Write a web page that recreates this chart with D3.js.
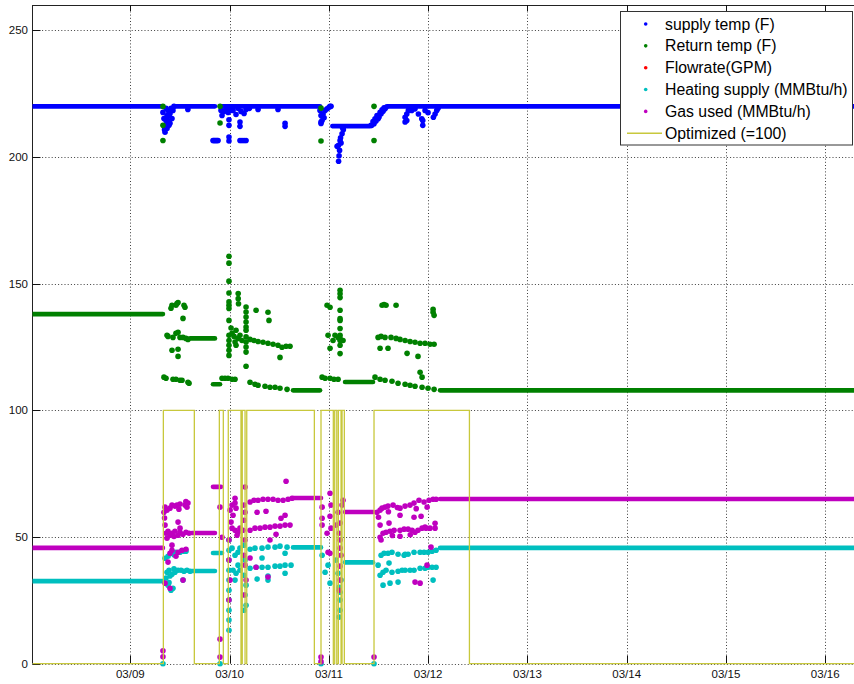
<!DOCTYPE html>
<html><head><meta charset="utf-8">
<script src="https://cdn.jsdelivr.net/npm/d3@7"></script>
<style>body{margin:0;background:#fff}svg{display:block}text{font-family:"Liberation Sans",Arial,Helvetica,sans-serif}</style>
</head><body><svg id="c" width="854" height="684"></svg>
<script>
// ---------- data (time = fractional day of March, values in chart units) ----------
const xDomain = [8.015, 16.34];
const yDomain = [0, 260];
const yTicks = [0, 50, 100, 150, 200, 250];
const xTickDays = [9, 10, 11, 12, 13, 14, 15, 16];
const xTickLabels = ["03/09", "03/10", "03/11", "03/12", "03/13", "03/14", "03/15", "03/16"];
const seriesNames = ["supply temp (F)", "Return temp (F)", "Flowrate(GPM)", "Heating supply (MMBtu/h)", "Gas used (MMBtu/h)", "Optimized (=100)"];

// supply temp: steady stretches [start, end, value] and individual readings [t, value]
const supplyRuns = [[8.015, 9.319, 220], [9.45, 9.853, 220], [9.924, 10.911, 220], [11.035, 11.415, 212.2], [11.586, 16.34, 220]];
const supplyPts = [
 [9.329,217.6],[9.339,215.2],[9.35,212.5],[9.35,209.8],[9.36,219.2],[9.36,214.4],[9.37,216.4],[9.37,211.3],[9.38,214.4],[9.38,218.4],[9.39,212.5],[9.39,216.4],[9.40,217.2],[9.40,213.3],[9.41,219.2],[9.42,215.2],[9.43,218.4],[9.44,220],[9.345,210.8],[9.58,218.8],
 [9.833,206.5],[9.843,206.5],[9.853,206.5],[9.864,206.5],[9.874,206.5],[9.884,206.5],
 [9.914,218.4],[9.924,216.4],[9.944,218.0],[9.964,218.8],[9.985,217.6],[10.005,218.4],[10.035,218.4],[10.065,216.8],[10.085,219.2],[10.115,218.0],[10.146,217.2],[10.166,218.8],[10.20,219.2],[10.287,218.8],[10.488,218.8],
 [9.994,214.7],[9.994,212.5],[9.994,207.9],[9.994,206.3],
 [10.105,213.8],[10.105,212.1],[10.105,206.5],[10.125,206.5],[10.146,206.5],[10.166,206.5],
 [10.559,213.3],[10.559,212.1],
 [10.911,218.4],[10.921,216.4],[10.921,213.8],[10.921,213.2],[10.932,214.4],[10.942,217.0],[10.952,215.5],[10.962,218.4],[10.982,219.0],[11.002,219.6],[11.012,220],[11.022,220],
 [11.146,210.8],[11.133,209.2],[11.118,207.6],[11.113,206.5],[11.098,204.6],[11.083,204.2],[11.108,202.6],[11.098,198.3],[11.103,200.5],[11.123,205.5],[11.138,211.5],
 [11.425,212.5],[11.432,212.5],[11.445,214.0],[11.455,213.1],[11.465,215.1],[11.475,214.2],[11.485,216.4],[11.496,215.1],[11.506,215.8],[11.516,217.6],[11.526,217.1],[11.536,218.6],[11.546,218.1],[11.556,219.4],[11.566,219.0],[11.576,219.6],
 [11.768,215.7],[11.768,213.8],[11.785,217.0],[11.785,214.4],[11.801,218.4],[11.835,218.4],[11.868,219.0],[11.902,217.0],[11.936,215.1],[11.946,212.5],[11.946,214.4],[11.969,218.4],[11.999,217.5],[12.053,215.7],[12.07,217.0],[12.087,218.4],[12.10,219.2]
];

const returnRuns = [[8.015, 9.329, 138], [9.602, 9.853, 128.4], [9.833, 9.904, 110.3], [10.639, 10.911, 107.9], [11.163, 11.445, 111.2], [12.12, 16.34, 107.9]];
const returnPts = [
 [9.329,220],[9.329,212.5],[9.329,206.5],[9.904,220],[9.904,213.4],[10.921,219.3],[10.921,206.3],[11.455,220],[11.455,206.5],
 [9.339,113.1],[9.36,112.7],[9.43,112.3],[9.46,112.3],[9.501,111.9],[9.521,111.9],[9.581,111.1],[9.592,110.7],
 [9.41,140.3],[9.42,141.5],[9.46,141.5],[9.47,142.2],[9.481,142.6],[9.541,141.5],[9.551,140.7],[9.531,136.3],
 [9.37,129.6],[9.38,129.2],[9.43,128.8],[9.46,130.4],[9.481,130.8],[9.501,128.8],[9.531,128.8],[9.561,128.4],[9.581,128.0],
 [9.42,123.7],[9.481,124.1],[9.481,121.3],
 [9.924,112.7],[9.954,112.7],[9.984,112.7],[10.025,112.3],[10.055,112.3],
 [9.994,160.8],[9.994,158.1],[9.994,151.0],[9.994,146.3],[9.994,142.8],[9.994,141.5],[9.994,140.2],[9.994,135.5],[9.994,129.6],[9.994,127.6],[9.994,125.7],[9.994,123.7],[9.994,121.7],
 [10.025,130.4],[10.045,129.2],[10.065,131.6],[10.085,128.4],[10.105,129.6],[10.125,127.6],[10.065,125.7],[10.015,132.5],[10.055,127.0],
 [10.087,146.1],[10.087,144.1],[10.09,142.1],
 [10.166,140.8],[10.166,138.8],[10.166,136.8],[10.166,134.9],[10.166,132.9],[10.166,131.6],[10.166,129.0],[10.166,127.0],[10.166,125.0],[10.166,123.0],[10.166,117.4],
 [10.206,128.0],[10.246,127.6],[10.287,127.2],[10.337,126.9],[10.387,126.5],[10.438,126.1],[10.488,125.7],[10.528,124.9],[10.569,125.3],[10.609,125.3],
 [10.267,139.5],[10.387,138.7],[10.397,135.5],[10.508,120.9],
 [10.206,111.1],[10.256,110.3],[10.287,109.9],[10.357,109.5],[10.407,109.1],[10.458,109.1],[10.508,108.7],[10.579,108.3],
 [10.932,113.1],[10.962,112.7],[11.012,112.7],[11.052,112.3],[11.093,112.3],
 [10.982,141.5],[11.012,140.7],
 [11.113,147.4],[11.113,146.0],[11.113,144.5],[11.113,139.5],[11.113,136.2],[11.113,135.5],[11.113,132.3],[11.113,129.6],[11.113,128.4],[11.113,127.6],[11.113,125.7],[11.113,122.4],
 [10.992,129.6],[11.062,129.6],[11.042,127.6],[11.012,124.5],[11.093,128.8],[11.143,127.6],
 [11.536,141.5],[11.556,141.8],[11.576,141.5],[11.677,141.5],
 [11.496,128.8],[11.526,129.2],[11.566,128.8],[11.626,128.8],[11.677,128.4],[11.717,128.0],[11.768,127.6],[11.818,127.2],[11.868,126.9],[11.919,126.5],[11.969,126.5],[12.019,126.1],[12.06,126.1],
 [11.516,124.5],[11.596,124.5],[11.788,122.5],[11.898,121.3],[11.919,115.0],[11.939,113.1],[12.05,138.7],[12.06,137.5],[12.05,139.9],
 [11.465,113.1],[11.516,112.3],[11.566,111.9],[11.636,111.5],[11.697,110.7],[11.768,110.3],[11.818,109.9],[11.868,109.5],[11.939,109.1],[11.999,108.7],[12.06,108.3]
];

const flowRuns = [];
const flowPts = [];

const heatRuns = [[8.015, 9.329, 32.6], [9.62, 9.853, 36.6], [9.833, 9.924, 43.7], [10.639, 10.921, 45.9], [11.163, 11.445, 40.0], [12.12, 16.34, 45.7]];
const heatPts = [
 [9.329,0],[9.904,0],[10.921,0],[11.455,0],
 [9.35,41.6],[9.38,42.4],[9.42,43.6],[9.46,44.0],[9.501,44.0],[9.541,44.4],[9.561,44.4],[9.44,43.0],[9.52,44.6],
 [9.37,36.1],[9.39,36.9],[9.42,35.3],[9.45,36.1],[9.481,36.9],[9.511,36.9],[9.541,36.5],[9.571,36.9],[9.602,36.5],[9.40,34.6],[9.44,37.5],
 [9.36,33.8],[9.38,31.0],[9.41,29.0],[9.43,29.8],[9.531,33.0],[9.39,32.0],
 [9.994,48.8],[9.994,44.8],[9.994,40.9],[9.994,36.9],[9.994,33.0],[9.994,29.0],[9.994,25.1],[9.994,21.1],[9.994,17.2],[9.994,13.2],
 [10.146,46.8],[10.156,40.9],[10.146,34.9],[10.166,31.0],[10.156,27.1],[10.166,23.1],[10.146,21.1],
 [10.025,45.6],[10.055,42.8],[10.085,44.0],[10.105,45.6],[10.035,36.9],[10.065,35.7],[10.105,36.9],[10.055,33.0],[10.085,38.9],
 [10.206,45.2],[10.256,45.6],[10.327,45.6],[10.387,46.0],[10.458,46.0],[10.508,46.4],[10.579,46.0],
 [10.206,37.7],[10.267,38.1],[10.327,38.1],[10.387,38.1],[10.458,38.5],[10.508,38.5],[10.559,38.9],[10.619,38.9],
 [10.277,33.4],[10.387,34.6],[10.387,33.0],[10.559,43.6],[10.559,35.7],[10.327,41.7],
 [10.932,42.8],[10.962,36.1],[10.992,38.9],[11.012,31.8],[11.073,40.9],[11.093,35.7],[11.103,30.2],[11.113,25.1],[11.113,21.1],[11.103,18.4],[11.123,33.0],[11.113,28.2],
 [11.526,42.8],[11.556,43.6],[11.596,43.6],[11.636,44.0],[11.697,43.2],[11.758,42.8],[11.798,43.2],[11.858,44.0],[11.919,44.0],[11.959,44.0],[11.999,44.0],[12.04,44.4],[12.08,44.8],
 [11.516,34.9],[11.546,36.1],[11.576,36.9],[11.636,36.1],[11.697,36.5],[11.738,36.9],[11.768,36.9],[11.818,36.9],[11.858,36.9],[11.919,37.7],[11.969,37.7],[11.999,38.1],[12.04,38.1],[12.08,38.1],
 [11.546,31.0],[11.616,31.8],[11.697,32.2],[11.606,39.7],[11.768,43.2],[12.05,33.0],[11.496,38.9]
];

const gasRuns = [[8.015, 9.329, 45.7], [9.62, 9.853, 51.6], [9.833, 9.914, 69.8], [10.639, 10.921, 65.4], [11.163, 11.445, 59.9], [12.12, 16.34, 65.0]];
const gasPts = [
 [9.329,5.1],[9.329,2.7],[9.904,9.7],[9.904,2.6],[10.921,2.6],[10.921,0.8],[11.455,2.6],
 [9.339,59.8],[9.35,61.8],[9.37,60.6],[9.40,61.4],[9.42,62.6],[9.45,62.2],[9.47,62.6],[9.501,63.0],[9.551,62.6],[9.581,63.4],[9.571,61.8],[9.345,57.5],[9.49,61.0],[9.56,64.0],
 [9.35,54.7],[9.481,55.9],[9.501,53.5],
 [9.36,51.5],[9.38,52.3],[9.40,50.7],[9.42,51.5],[9.45,52.3],[9.481,50.7],[9.501,51.9],[9.531,51.1],[9.561,51.9],[9.592,51.5],[9.37,49.5],[9.44,50.2],
 [9.40,43.6],[9.42,44.8],[9.46,42.4],[9.481,44.0],[9.521,44.8],[9.561,45.2],[9.38,40.1],[9.42,46.8],
 [9.40,29.8],[9.531,33.0],[9.35,31.8],
 [9.904,61.8],[9.924,49.9],
 [10.005,60.6],[10.025,62.6],[10.055,65.3],[10.055,63.4],[10.065,61.4],[10.035,58.6],[10.015,55.9],[10.025,53.5],[10.055,52.7],[10.085,51.9],[10.105,53.5],[10.136,52.7],[10.075,50.7],[9.994,48.8],[9.994,40.9],[10.005,33.0],[9.994,25.1],
 [10.146,62.6],[10.156,59.8],[10.146,56.6],[10.156,48.8],[10.146,42.8],[10.156,38.9],[10.166,33.0],[10.146,27.1],[10.156,69.7],
 [10.206,63.8],[10.246,64.5],[10.287,64.5],[10.337,64.9],[10.387,64.9],[10.438,64.9],[10.488,64.5],[10.539,64.5],[10.589,64.9],[10.629,65.3],[10.569,72.0],
 [10.206,52.7],[10.256,53.5],[10.307,53.5],[10.357,53.9],[10.407,53.9],[10.458,54.3],[10.508,54.3],[10.559,54.7],[10.609,54.7],
 [10.277,59.8],[10.367,60.2],[10.518,57.4],[10.559,58.6],[10.468,51.1],[10.407,48.8],[10.387,34.2],[10.267,38.1],[10.206,41.7],
 [10.932,61.8],[10.932,57.4],[10.932,54.7],[11.012,67.3],[11.022,62.6],[11.012,58.2],[10.982,51.5],[11.022,53.5],[10.992,44.0],[11.012,43.6],
 [11.143,64.5],[11.133,62.6],[11.113,55.5],[11.103,51.5],[11.113,48.8],[11.113,45.6],[11.123,42.8],[11.113,38.5],[11.113,33.0],[11.103,29.0],[11.093,59.8],[11.073,54.7],
 [11.485,59.8],[11.516,60.6],[11.536,61.4],[11.566,61.8],[11.596,62.2],[11.647,62.6],[11.717,58.6],[11.717,61.4],[11.768,62.2],[11.818,62.6],[11.858,63.4],[11.908,64.5],[11.959,63.8],[12.009,64.5],[12.05,64.9],[12.08,64.9],[11.50,57.8],[11.60,60.0],[11.69,61.6],[11.88,61.2],[11.99,61.8],
 [11.516,49.9],[11.546,51.5],[11.576,51.9],[11.616,52.3],[11.657,52.7],[11.717,52.7],[11.758,53.1],[11.798,53.1],[11.838,52.7],[11.868,51.9],[11.898,52.7],[11.939,53.5],[11.979,53.5],[12.019,53.5],[12.07,53.5],[11.717,50.3],[11.526,48.8],[12.07,55.4],[11.64,50.6],[11.82,50.9],
 [11.858,57.8],[11.929,58.2],[11.969,53.9],[11.606,55.5],[12.029,46.0],[11.868,32.2],[11.919,31.8],[11.989,38.9],[11.516,54.7]
];

// Optimized: switching times and the state that starts at each time
const optTimes  = [8.015, 9.333, 9.645, 9.897, 9.937, 9.987, 10.115, 10.128, 10.156, 10.173, 10.854, 10.921, 11.045, 11.059, 11.080, 11.096, 11.123, 11.133, 11.156, 11.455, 12.416, 16.34];
const optValues = [0, 100, 0, 100, 0, 100, 0, 100, 0, 100, 0, 100, 0, 100, 0, 100, 0, 100, 0, 100, 0, 0];

const colors = ["#0000ff", "#008000", "#ff0000", "#00bfbf", "#bf00bf", "#c8c83c"];

// ---------- drawing ----------
const svg = d3.select("#c");
const m = {left: 32.5, right: 859, top: 5, bottom: 663.7};
const toDate = d => new Date(Date.UTC(2013, 2, 1) + (d - 1) * 864e5);
const x = d3.scaleUtc().domain(xDomain.map(toDate)).range([m.left, m.right]);
const y = d3.scaleLinear().domain(yDomain).range([m.bottom, m.top]);

svg.append("defs").append("clipPath").attr("id", "clip")
  .append("rect").attr("x", m.left).attr("y", m.top - 3).attr("width", m.right - m.left).attr("height", m.bottom - m.top + 6);

// grid
const grid = svg.append("g").attr("stroke", "#000").attr("stroke-width", 1).attr("stroke-dasharray", "1,2.2").attr("opacity", 0.75);
grid.selectAll(".gx").data(xTickDays).join("line")
  .attr("x1", d => Math.round(x(toDate(d))) + 0.5).attr("x2", d => Math.round(x(toDate(d))) + 0.5)
  .attr("y1", m.top).attr("y2", m.bottom);
grid.selectAll(".gy").data(yTicks).join("line")
  .attr("y1", d => Math.round(y(d)) + 0.5).attr("y2", d => Math.round(y(d)) + 0.5)
  .attr("x1", m.left).attr("x2", m.right);

// axis box (left and top solid)
svg.append("line").attr("x1", m.left).attr("x2", m.left).attr("y1", m.top).attr("y2", m.bottom).attr("stroke", "#222");
svg.append("line").attr("x1", m.left).attr("x2", m.right).attr("y1", m.top + 0.5).attr("y2", m.top + 0.5).attr("stroke", "#222");

// ticks
const tk = svg.append("g").attr("stroke", "#111").attr("stroke-width", 1);
tk.selectAll(".tb").data(xTickDays).join("line")
  .attr("x1", d => Math.round(x(toDate(d))) + 0.5).attr("x2", d => Math.round(x(toDate(d))) + 0.5)
  .attr("y1", m.bottom).attr("y2", m.bottom - 8);
tk.selectAll(".tt").data(xTickDays).join("line")
  .attr("x1", d => Math.round(x(toDate(d))) + 0.5).attr("x2", d => Math.round(x(toDate(d))) + 0.5)
  .attr("y1", m.top).attr("y2", m.top + 6);
tk.selectAll(".tl").data(yTicks).join("line")
  .attr("y1", d => Math.round(y(d)) + 0.5).attr("y2", d => Math.round(y(d)) + 0.5)
  .attr("x1", m.left).attr("x2", m.left + 8);

// tick labels
svg.append("g").selectAll("text").data(xTickDays).join("text")
  .attr("x", d => x(toDate(d))).attr("y", 678).attr("text-anchor", "middle")
  .attr("font-size", 11.5).attr("fill", "#111").text((d, i) => xTickLabels[i]);
svg.append("g").selectAll("text").data(yTicks).join("text")
  .attr("x", 28).attr("y", d => y(d) + 4).attr("text-anchor", "end")
  .attr("font-size", 11.5).attr("fill", "#111").text(d => d);

// series
const plot = svg.append("g").attr("clip-path", "url(#clip)");
const series = [
  [supplyRuns, supplyPts], [returnRuns, returnPts], [flowRuns, flowPts], [heatRuns, heatPts], [gasRuns, gasPts]
];
series.forEach(([runs, pts], i) => {
  const g = plot.append("g");
  g.selectAll("line").data(runs).join("line")
    .attr("x1", d => x(toDate(d[0]))).attr("x2", d => x(toDate(d[1])))
    .attr("y1", d => y(d[2])).attr("y2", d => y(d[2]))
    .attr("stroke", colors[i]).attr("stroke-width", 4.6).attr("stroke-linecap", "round");
  g.selectAll("circle").data(pts).join("circle")
    .attr("cx", d => x(toDate(d[0]))).attr("cy", d => y(d[1])).attr("r", 2.8)
    .attr("fill", colors[i]);
});

// optimized step line
const optData = optTimes.map((t, i) => [t, optValues[i]]);
plot.append("path").datum(optData)
  .attr("d", d3.line().x(d => x(toDate(d[0]))).y(d => y(d[1])).curve(d3.curveStepAfter))
  .attr("fill", "none").attr("stroke", colors[5]).attr("stroke-width", 1.3);

// legend
const lg = svg.append("g");
lg.append("rect").attr("x", 620.5).attr("y", 11.5).attr("width", 232).attr("height", 133.5)
  .attr("fill", "#fff").attr("stroke", "#333").attr("stroke-width", 1);
const rowY = i => 24 + i * 21.85;
seriesNames.forEach((name, i) => {
  if (i < 5) {
    lg.append("circle").attr("cx", 645.7).attr("cy", rowY(i)).attr("r", 1.8).attr("fill", colors[i]);
  } else {
    lg.append("line").attr("x1", 627).attr("x2", 662).attr("y1", rowY(i)).attr("y2", rowY(i))
      .attr("stroke", colors[5]).attr("stroke-width", 1.3);
  }
  lg.append("text").attr("x", 665).attr("y", rowY(i) + 5.5).attr("font-size", 15.8).attr("fill", "#000").text(name);
});
</script>
</body></html>
